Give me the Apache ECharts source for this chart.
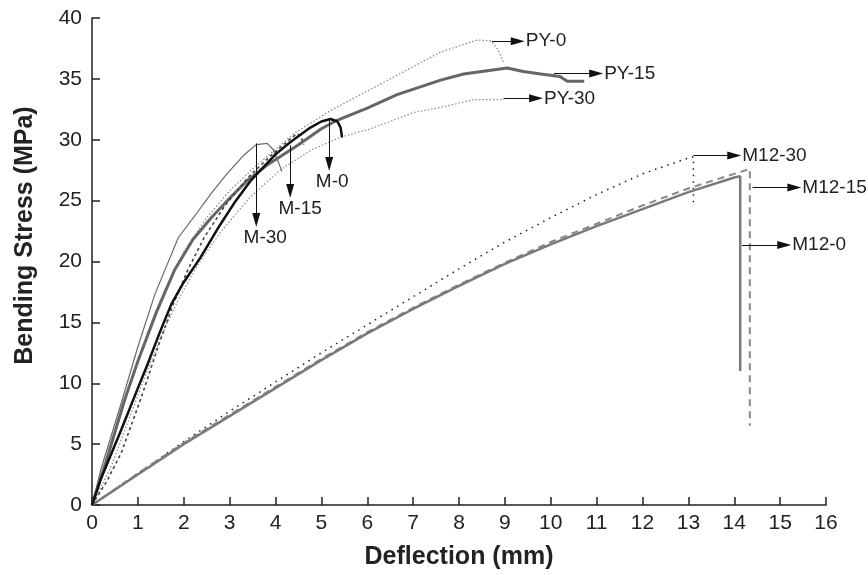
<!DOCTYPE html>
<html><head><meta charset="utf-8">
<script src="https://cdn.jsdelivr.net/npm/echarts/dist/echarts.min.js"></script>
<style>html,body{margin:0;padding:0;background:#fff}#c{width:868px;height:575px}</style>
</head><body><div id="c"></div>
<script>
// ---- data (Deflection mm, Bending Stress MPa) ----
const xName = 'Deflection (mm)';
const yName = 'Bending Stress (MPa)';

const m0 = [[0,0],[0.2,2.2],[0.64,6.2],[1.0,9.6],[1.22,11.65],[1.48,14.2],[1.73,16.5],[2.0,18.3],[2.36,20.3],[2.79,23.0],[3.1,24.8],[3.45,26.6],[4.0,28.8],[4.32,29.8],[4.76,31.0],[5.0,31.5],[5.2,31.7],[5.35,31.5],[5.42,31.0],[5.45,30.2]];
const m15 = [[0,0],[0.33,2.0],[0.64,4.3],[1.08,8.9],[1.44,13.0],[1.75,16.3],[2.1,19.4],[2.45,22.0],[2.9,24.6],[3.4,26.9],[3.9,28.7],[4.3,30.0],[4.47,30.5],[4.55,30.3],[4.62,29.6]];
const m30 = [[0,0],[0.2,3.0],[0.64,8.4],[1.0,13.0],[1.37,17.3],[1.88,21.95],[2.25,23.8],[2.6,25.6],[2.94,27.2],[3.3,28.7],[3.58,29.6],[3.82,29.7],[3.95,29.2],[4.05,28.3],[4.14,27.4]];
const py0 = [[0,0],[0.4,4.5],[0.8,9.5],[1.2,14.0],[1.6,17.8],[2.0,20.8],[2.5,23.6],[3.0,25.8],[3.5,27.6],[4.0,29.2],[4.4,30.5],[5.2,32.4],[5.9,33.8],[6.65,35.3],[7.6,37.2],[8.0,37.7],[8.4,38.2],[8.7,38.1],[8.85,37.4],[8.98,36.3]];
const py15 = [[0,0],[0.3,3.5],[0.7,8.5],[1.0,11.8],[1.4,15.8],[1.8,19.3],[2.2,21.8],[2.6,23.6],[3.0,25.2],[3.4,26.7],[3.81,27.9],[4.47,29.5],[5.0,30.9],[5.34,31.6],[6.0,32.6],[6.65,33.7],[7.6,34.9],[8.1,35.4],[9.05,35.9],[9.4,35.6],[9.78,35.4],[10.2,35.2],[10.36,34.8],[10.73,34.8]];
const py30 = [[0,0],[0.4,3.0],[0.8,7.0],[1.2,11.0],[1.5,13.8],[1.9,17.0],[2.3,19.7],[2.8,22.4],[3.45,25.3],[4.13,27.6],[4.8,29.2],[5.41,30.2],[6.07,30.9],[7.02,32.25],[7.6,32.65],[8.33,33.3],[8.98,33.3]];
const m12_0 = [[0,0],[1,2.5],[2,5.0],[3,7.3],[4,9.6],[5,11.9],[6,14.1],[7,16.1],[8,18.0],[9,19.8],[10,21.4],[11,22.9],[12,24.3],[13,25.7],[14,26.9],[14.13,27.0],[14.13,11.0]];
const m12_15 = [[0,0],[1,2.6],[2,5.1],[3,7.4],[4,9.7],[5,12.0],[6,14.2],[7,16.2],[8,18.1],[9,19.9],[10,21.6],[11,23.1],[12,24.6],[13,26.0],[14,27.2],[14.34,27.6],[14.34,6.5]];
const m12_30 = [[0,0],[1,2.6],[2,5.2],[3,7.7],[3.52,8.94],[4,10.1],[5,12.5],[6,14.8],[7,17.1],[8,19.4],[9,21.6],[10,23.6],[11,25.5],[12,27.2],[13,28.5],[13.11,28.6],[13.11,24.5]];

// annotation arrows: label, start [x,y], end [x,y]
const annLabels = ['PY-0','PY-15','PY-30','M12-30','M12-15','M12-0','M-30','M-15','M-0'];
const annFrom = [[8.72,38.1],[10.07,35.45],[8.97,33.4],[13.11,28.7],[14.4,26.07],[14.17,21.36],[3.58,29.7],[4.32,29.55],[5.17,31.6]];
const annTo   = [[9.28,38.1],[10.99,35.45],[9.68,33.4],[14.0,28.7],[15.31,26.07],[15.09,21.36],[3.58,23.4],[4.32,25.8],[5.17,28.0]];
const annShift = [0,0,0,0,0,0,9,10,3];

const font = 'Liberation Sans, Arial, sans-serif';
const chart = echarts.init(document.getElementById('c'));

function ser(name, data, color, width, type){
  return {name, type:'line', data, showSymbol:false, symbol:'none', smooth:false, z:2,
    lineStyle:{color, width, type}};
}

const markData = annLabels.map((t,i)=>[
  {coord:annFrom[i], label:{formatter:t, offset:[annShift[i],0]}},
  {coord:annTo[i]}
]);

chart.setOption({
  animation:false,
  backgroundColor:'#fff',
  grid:{left:92, right:42, top:18, bottom:65, containLabel:false},
  xAxis:{type:'value', min:0, max:16, interval:1,
    name:xName, nameLocation:'middle', nameGap:40,
    nameTextStyle:{fontFamily:font, fontWeight:'bold', fontSize:25, color:'#222'},
    axisLine:{show:true, lineStyle:{color:'#222', width:1.5}},
    axisTick:{show:true, inside:true, length:8, lineStyle:{color:'#222', width:1.5}},
    axisLabel:{fontFamily:font, fontSize:21, color:'#222', margin:8},
    splitLine:{show:false}},
  yAxis:{type:'value', min:0, max:40, interval:5,
    name:yName, nameLocation:'middle', nameGap:54,
    nameTextStyle:{fontFamily:font, fontWeight:'bold', fontSize:25, color:'#222', padding:[0,0,0,52]},
    axisLine:{show:true, lineStyle:{color:'#222', width:1.5}},
    axisTick:{show:true, inside:true, length:8, lineStyle:{color:'#222', width:1.5}},
    axisLabel:{fontFamily:font, fontSize:21, color:'#222', margin:10},
    splitLine:{show:false}},
  series:[
    ser('M12-30', m12_30, '#222', 1.5, [1.5,5]),
    ser('M12-15', m12_15, '#888', 2, [7,5]),
    ser('M12-0', m12_0, '#7a7a7a', 2.5, 'solid'),
    ser('PY-0', py0, '#8c8c8c', 1.3, [1.5,2]),
    ser('PY-30', py30, '#8c8c8c', 1.2, [1.5,2]),
    ser('PY-15', py15, '#666', 3, 'solid'),
    ser('M-30', m30, '#6a6a6a', 1.2, 'solid'),
    ser('M-15', m15, '#444', 1.6, [3,3]),
    ser('M-0', m0, '#111', 2.5, 'solid'),
    {name:'annotations', type:'line', data:[], silent:true,
      markLine:{silent:true, symbol:['none','triangle'], symbolSize:[8,14],
        lineStyle:{color:'#111', width:1, type:'solid'},
        label:{show:true, position:'end', distance:8, fontFamily:font, fontSize:19, color:'#222'},
        emphasis:{disabled:true},
        data:markData}}
  ]
});
</script></body></html>
